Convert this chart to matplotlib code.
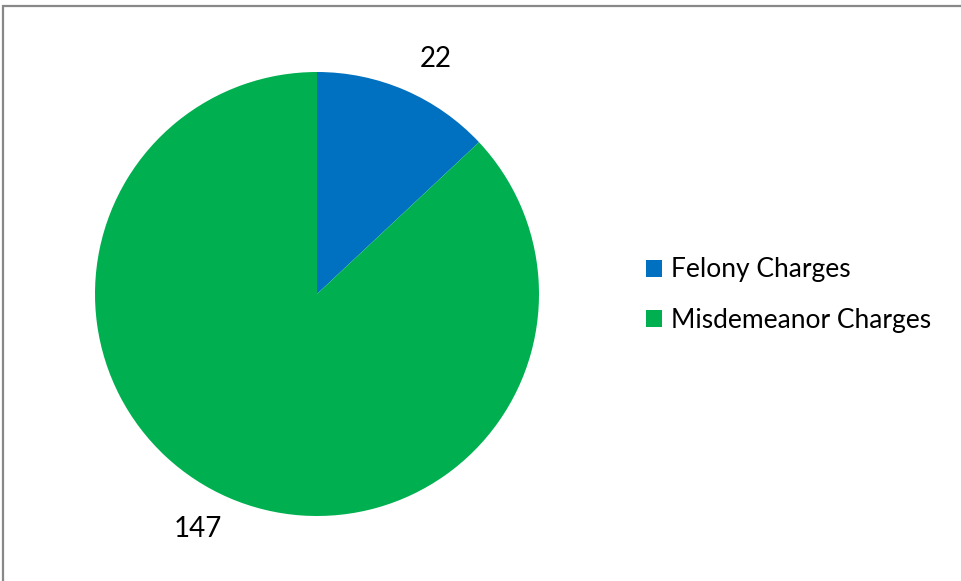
import numpy as np
import matplotlib.pyplot as plt
from matplotlib.patches import Rectangle, Patch

categories = ["Felony Charges", "Misdemeanor Charges"]
values = [22, 147]
colors = ["#0070C0", "#00B050"]

plt.rcParams['font.family'] = ['Lato', 'DejaVu Sans']

W, H = 962, 581
fig = plt.figure(figsize=(W / 100, H / 100), dpi=100)

# chart border (only top and left visible in the crop)
top = 1 - 5.5 / H
fig.patches.append(Rectangle((3 / W, -0.1), 1.2, top + 0.1,
                             transform=fig.transFigure, fill=False,
                             edgecolor="#888888", linewidth=1.6))

cx, cy, r = 317, 294, 222
ax = fig.add_axes([(cx - r) / W, (H - cy - r) / H, 2 * r / W, 2 * r / H])
wedges, _ = ax.pie(values, colors=colors, startangle=90, counterclock=False, radius=1)
ax.set_xlim(-1, 1)
ax.set_ylim(-1, 1)
ax.set_aspect('equal')

# outside-end data labels, nudged clockwise like the original
for w, v in zip(wedges, values):
    mid = np.deg2rad((w.theta1 + w.theta2) / 2 - 3.5)
    d = 1.185
    ax.text(d * np.cos(mid), d * np.sin(mid), str(v), fontsize=20,
            ha='center', va='center', color='black')

handles = [Patch(facecolor=c, label=l) for c, l in zip(colors, categories)]
fig.legend(handles=handles, loc='center left', bbox_to_anchor=(622 / W, 1 - 295 / H),
           frameon=False, fontsize=19, handlelength=0.6, handleheight=0.6,
           handletextpad=0.35, labelspacing=0.95)

fig.savefig("out.png", dpi=100)
